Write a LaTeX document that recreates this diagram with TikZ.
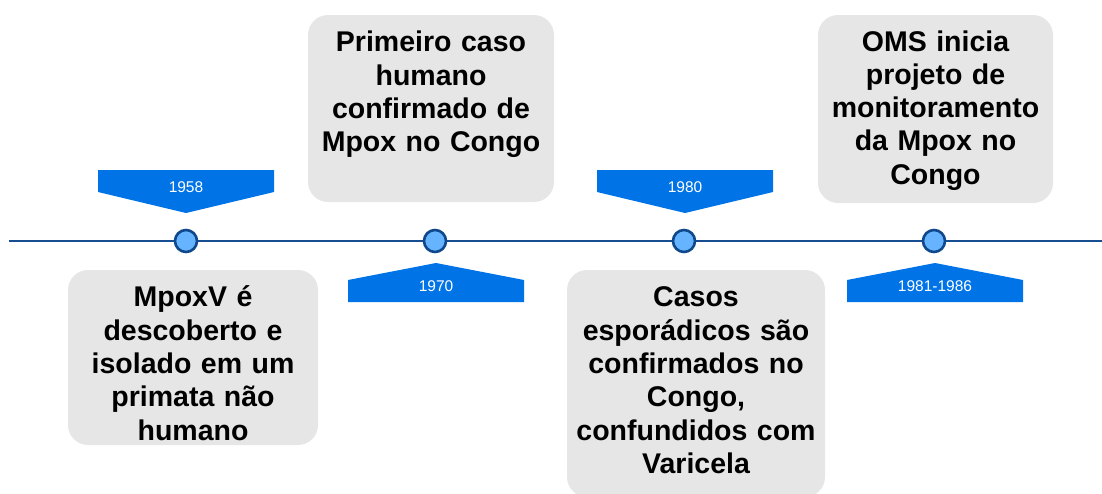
\documentclass[tikz,border=0pt]{standalone}
\usepackage{fontspec}
\setmainfont{Liberation Sans}
\definecolor{bannerblue}{RGB}{0,115,230}
\definecolor{dotfill}{RGB}{102,180,255}
\definecolor{dotline}{RGB}{16,72,140}
\definecolor{axisline}{RGB}{23,78,145}
\definecolor{boxgray}{RGB}{230,230,230}
\begin{document}
\begin{tikzpicture}[x=1pt,y=-1pt,
  evbox/.style={fill=boxgray,draw=none,rounded corners=20pt,inner sep=0pt},
  evtext/.style={anchor=north,inner sep=0pt,align=center,text width=260pt,
     font=\bfseries\fontsize{28.5}{33.3}\selectfont},
  dot/.style={circle,fill=dotfill,draw=dotline,line width=2.6pt,minimum size=22pt,inner sep=0pt},
  banner/.style={fill=bannerblue,draw=none},
  yeartext/.style={text=white,font=\fontsize{15.5}{18}\selectfont,inner sep=0pt}]
\useasboundingbox (0,0) rectangle (1102,493);
\clip (0,0) rectangle (1102,493);
% timeline
\coordinate (L) at (9,241);
\coordinate (R) at (1102,241);
\draw[axisline,line width=2pt] (L) -- (R);
% event boxes
\fill[boxgray,rounded corners=20pt] (68,270) rectangle (318,445);
\fill[boxgray,rounded corners=20pt] (308,15) rectangle (554,202);
\fill[boxgray,rounded corners=20pt] (567,270) rectangle (825,497);
\fill[boxgray,rounded corners=20pt] (818,15) rectangle (1053,203);
\node[evtext] (t1) at (193,283.4) {\strut MpoxV é\\descoberto e\\isolado em um\\primata não\\humano};
\node[evtext] (t2) at (431,28.4) {\strut Primeiro caso\\humano\\confirmado de\\Mpox no Congo};
\node[evtext] (t3) at (696,283.4) {\strut Casos\\esporádicos são\\confirmados no\\Congo,\\confundidos com\\Varicela};
\node[evtext] (t4) at (935.5,27.5) {\strut OMS inicia\\projeto de\\monitoramento\\da Mpox no\\Congo};
% banners
\fill[banner] (98,170) -- (274,170) -- (274,192) -- (186,213) -- (98,192) -- cycle;
\node[yeartext] (y1) at (186,187.5) {1958};
\fill[banner] (348,302) -- (524,302) -- (524,280) -- (436,263) -- (348,280) -- cycle;
\node[yeartext] (y2) at (436,286) {1970};
\fill[banner] (597,170) -- (773,170) -- (773,192) -- (685,213) -- (597,192) -- cycle;
\node[yeartext] (y3) at (685,187.5) {1980};
\fill[banner] (847,302) -- (1023,302) -- (1023,280) -- (935,263) -- (847,280) -- cycle;
\node[yeartext] (y4) at (935,286) {1981-1986};
% dots
\node[dot] (d1) at (186,241) {};
\node[dot] (d2) at (435,241) {};
\node[dot] (d3) at (684,241) {};
\node[dot] (d4) at (934,241) {};
\end{tikzpicture}
\end{document}
